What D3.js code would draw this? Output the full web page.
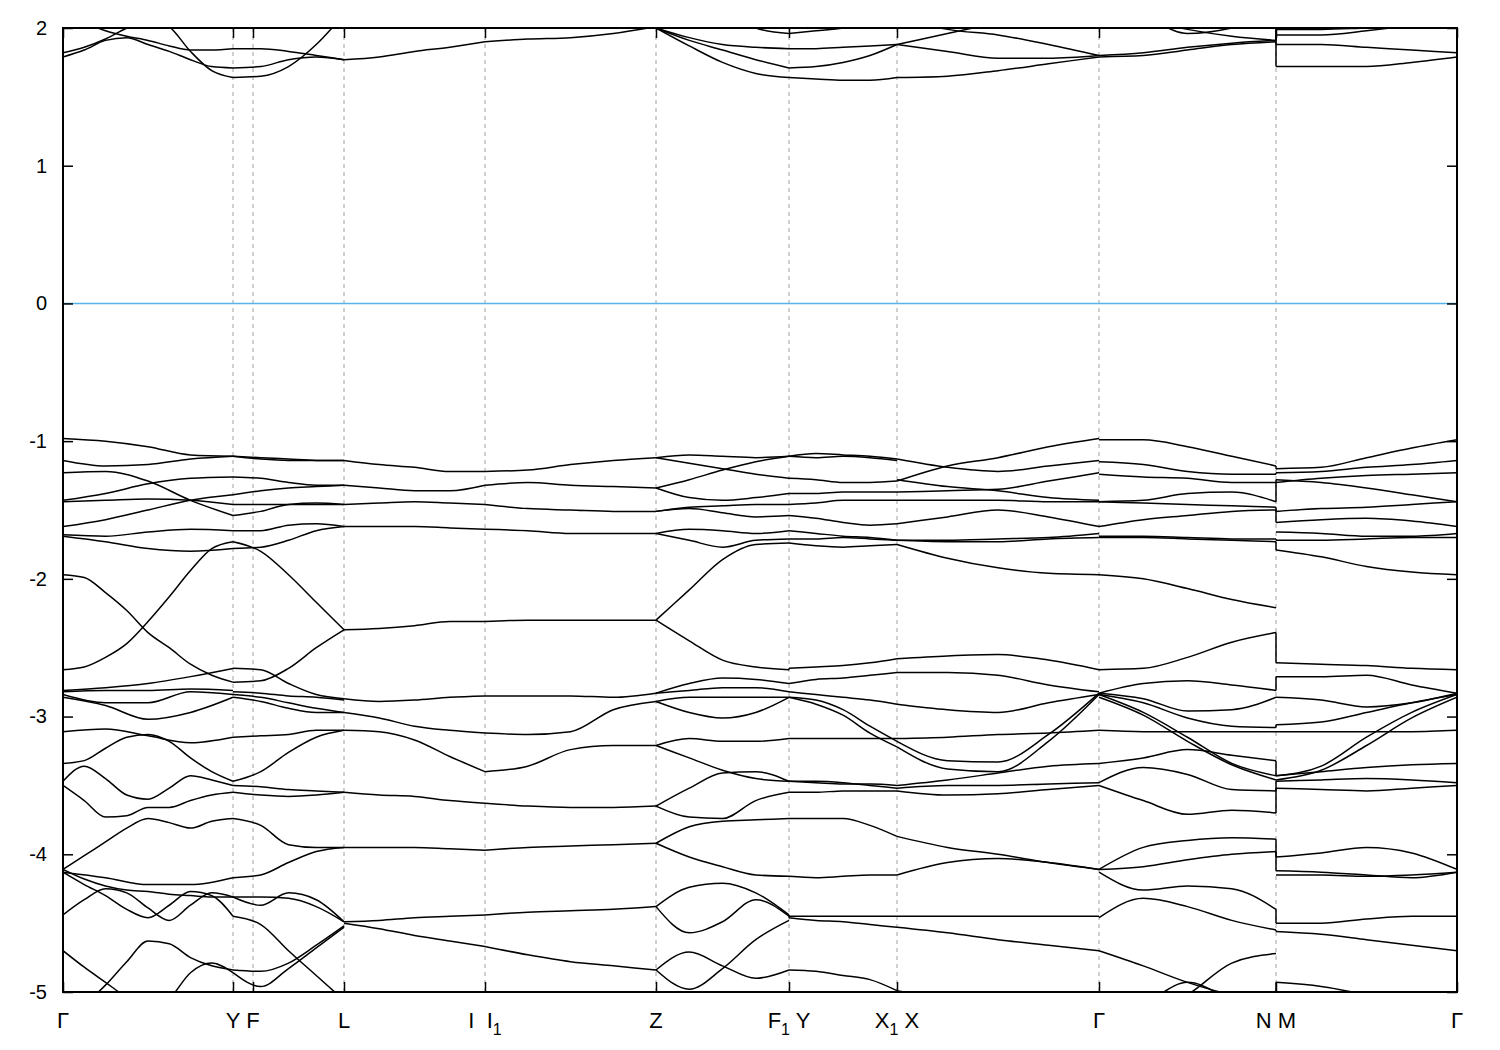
<!DOCTYPE html>
<html><head><meta charset="utf-8">
<script src="https://cdn.jsdelivr.net/npm/d3@7"></script>
<style>body{margin:0;background:#fff}svg{display:block}text{white-space:pre}</style>
</head><body>
<svg id="chart" width="1500" height="1050"></svg>
<script>
// High-symmetry points along the k-path (path length units)
const kTicks = [0, 0.170, 0.190, 0.281, 0.422, 0.593, 0.726, 0.834, 1.036, 1.213, 1.394];
const kLabels = ["Γ", "Y", "F", "L", "I  I_1", "Z", "F_1 Y", "X_1 X", "Γ", "N M", "Γ"];
const breakPoints = [6, 9]; // discontinuous path joints (F1|Y, N|M)
const energyTicks = [2, 1, 0, -1, -2, -3, -4, -5];
const energyRange = [-5, 2];
const fermiEnergy = 0;

// Band energies (eV), evenly sampled along each path segment
const bandsGammaY = [
 [1.82, 1.86, 1.92, 2.00, 2.07, 2.01, 1.83, 1.69, 1.64],
 [1.79, 1.84, 1.91, 1.93, 1.88, 1.83, 1.77, 1.72, 1.71],
 [2.12, 2.04, 1.98, 1.94, 1.91, 1.87, 1.84, 1.84, 1.85],
 [-0.98, -1.00, -1.04, -1.10, -1.11],
 [-1.14, -1.18, -1.17, -1.13, -1.11],
 [-1.23, -1.22, -1.29, -1.43, -1.54],
 [-1.43, -1.38, -1.31, -1.27, -1.26],
 [-1.44, -1.43, -1.42, -1.43, -1.46],
 [-1.62, -1.57, -1.50, -1.43, -1.39],
 [-1.68, -1.69, -1.66, -1.64, -1.65],
 [-1.69, -1.73, -1.78, -1.80, -1.78],
 [-2.66, -2.64, -2.57, -2.47, -2.31, -2.13, -1.94, -1.78, -1.73],
 [-1.97, -1.99, -2.10, -2.23, -2.39, -2.50, -2.62, -2.70, -2.75],
 [-2.81, -2.79, -2.76, -2.71, -2.65],
 [-2.82, -2.81, -2.81, -2.80, -2.81],
 [-2.84, -2.90, -2.90, -2.82, -2.84],
 [-2.86, -2.92, -3.02, -2.97, -2.86],
 [-3.11, -3.09, -3.14, -3.19, -3.15],
 [-3.34, -3.32, -3.23, -3.15, -3.13, -3.18, -3.30, -3.40, -3.47],
 [-3.47, -3.36, -3.45, -3.57, -3.60, -3.52, -3.43, -3.46, -3.50],
 [-3.50, -3.61, -3.73, -3.72, -3.66, -3.66, -3.61, -3.57, -3.55],
 [-4.11, -4.01, -3.91, -3.81, -3.74, -3.77, -3.81, -3.76, -3.74],
 [-4.13, -4.17, -4.22, -4.22, -4.17],
 [-4.11, -4.18, -4.23, -4.26, -4.27, -4.29, -4.30, -4.31, -4.31],
 [-4.13, -4.22, -4.30, -4.40, -4.46, -4.37, -4.27, -4.30, -4.45],
 [-4.44, -4.33, -4.25, -4.28, -4.39, -4.48, -4.37, -4.28, -4.31],
 [-4.70, -4.82, -4.93, -5.04, -5.13, -5.20, -5.24, -5.28, -5.31],
 [-5.20, -5.09, -4.95, -4.78, -4.63, -4.65, -4.75, -4.81, -4.84],
 [-5.35, -5.32, -5.28, -5.20, -5.13, -5.05, -4.86, -4.79, -4.86]
];
const bandsYL = [
 [1.64, 1.65, 1.72, 1.88, 2.10],
 [1.71, 1.72, 1.77, 1.79, 1.77],
 [1.85, 1.85, 1.83, 1.80, 1.77],
 [-1.11, -1.13, -1.14, -1.14, -1.14],
 [-1.11, -1.12, -1.13, -1.14, -1.14],
 [-1.54, -1.51, -1.46, -1.45, -1.46],
 [-1.26, -1.27, -1.30, -1.32, -1.32],
 [-1.46, -1.46, -1.46, -1.46, -1.46],
 [-1.39, -1.36, -1.34, -1.33, -1.32],
 [-1.65, -1.65, -1.61, -1.60, -1.62],
 [-1.78, -1.77, -1.72, -1.65, -1.62],
 [-1.73, -1.80, -1.97, -2.17, -2.37],
 [-2.75, -2.74, -2.65, -2.50, -2.37],
 [-2.65, -2.66, -2.76, -2.84, -2.87],
 [-2.82, -2.83, -2.85, -2.86, -2.88],
 [-2.84, -2.86, -2.90, -2.94, -2.97],
 [-2.86, -2.89, -2.94, -2.97, -2.97],
 [-3.15, -3.14, -3.13, -3.10, -3.10],
 [-3.47, -3.40, -3.26, -3.15, -3.10],
 [-3.50, -3.51, -3.53, -3.54, -3.55],
 [-3.55, -3.57, -3.58, -3.57, -3.55],
 [-3.74, -3.79, -3.93, -3.95, -3.95],
 [-4.17, -4.15, -4.06, -3.98, -3.95],
 [-4.31, -4.37, -4.28, -4.33, -4.49],
 [-4.31, -4.31, -4.32, -4.38, -4.49],
 [-4.45, -4.51, -4.70, -4.88, -5.06],
 [-4.84, -4.85, -4.79, -4.66, -4.52],
 [-4.86, -4.96, -4.83, -4.68, -4.53]
];
const bandsLI = [
 [1.77, 1.79, 1.83, 1.86, 1.90],
 [-1.14, -1.17, -1.19, -1.22, -1.22],
 [-1.32, -1.34, -1.36, -1.36, -1.32],
 [-1.46, -1.45, -1.44, -1.45, -1.46],
 [-1.62, -1.62, -1.62, -1.63, -1.64],
 [-2.37, -2.36, -2.34, -2.31, -2.31],
 [-2.87, -2.89, -2.88, -2.86, -2.85],
 [-2.97, -3.01, -3.07, -3.10, -3.12],
 [-3.10, -3.11, -3.17, -3.29, -3.40],
 [-3.55, -3.57, -3.58, -3.61, -3.63],
 [-3.95, -3.95, -3.95, -3.96, -3.97],
 [-4.49, -4.48, -4.46, -4.45, -4.44],
 [-4.50, -4.54, -4.59, -4.63, -4.67]
];
const bandsIZ = [
 [1.90, 1.92, 1.93, 1.96, 2.01],
 [-1.22, -1.21, -1.17, -1.14, -1.12],
 [-1.32, -1.30, -1.32, -1.33, -1.34],
 [-1.46, -1.49, -1.50, -1.51, -1.51],
 [-1.64, -1.65, -1.67, -1.67, -1.67],
 [-2.31, -2.30, -2.30, -2.30, -2.30],
 [-2.85, -2.85, -2.85, -2.86, -2.83],
 [-3.12, -3.13, -3.11, -2.95, -2.89],
 [-3.40, -3.36, -3.24, -3.21, -3.21],
 [-3.63, -3.65, -3.66, -3.66, -3.65],
 [-3.97, -3.95, -3.94, -3.93, -3.92],
 [-4.44, -4.42, -4.41, -4.40, -4.38],
 [-4.67, -4.73, -4.78, -4.81, -4.84]
];
const bandsZF = [
 [2.00, 1.93, 1.88, 1.86, 1.85],
 [2.00, 1.91, 1.84, 1.77, 1.71],
 [2.00, 1.87, 1.75, 1.67, 1.64],
 [2.20, 2.24, 2.13, 2.00, 1.96],
 [-1.12, -1.10, -1.11, -1.12, -1.11],
 [-1.12, -1.16, -1.20, -1.24, -1.27],
 [-1.34, -1.28, -1.21, -1.15, -1.11],
 [-1.34, -1.41, -1.43, -1.41, -1.38],
 [-1.51, -1.48, -1.47, -1.46, -1.46],
 [-1.51, -1.49, -1.52, -1.55, -1.54],
 [-1.67, -1.64, -1.65, -1.67, -1.65],
 [-1.67, -1.72, -1.77, -1.72, -1.71],
 [-2.30, -2.08, -1.86, -1.75, -1.74],
 [-2.30, -2.45, -2.59, -2.64, -2.66],
 [-2.83, -2.76, -2.72, -2.73, -2.76],
 [-2.83, -2.81, -2.79, -2.79, -2.82],
 [-2.89, -2.97, -3.01, -2.97, -2.86],
 [-2.89, -2.86, -2.86, -2.86, -2.86],
 [-3.21, -3.16, -3.18, -3.18, -3.16],
 [-3.21, -3.30, -3.39, -3.45, -3.47],
 [-3.65, -3.52, -3.41, -3.40, -3.47],
 [-3.65, -3.73, -3.74, -3.61, -3.55],
 [-3.92, -3.80, -3.76, -3.75, -3.74],
 [-3.92, -4.02, -4.09, -4.15, -4.16],
 [-4.38, -4.24, -4.21, -4.28, -4.44],
 [-4.38, -4.57, -4.49, -4.33, -4.45],
 [-4.84, -4.71, -4.81, -4.90, -4.84],
 [-4.84, -4.98, -4.83, -4.62, -4.48]
];
const bandsYX = [
 [1.85, 1.85, 1.86, 1.87, 1.88],
 [1.71, 1.72, 1.75, 1.80, 1.88],
 [1.64, 1.63, 1.62, 1.62, 1.64],
 [1.96, 1.98, 2.00, 2.04, 2.09],
 [-1.11, -1.09, -1.10, -1.11, -1.13],
 [-1.11, -1.12, -1.11, -1.12, -1.14],
 [-1.27, -1.28, -1.30, -1.30, -1.29],
 [-1.38, -1.38, -1.37, -1.37, -1.37],
 [-1.46, -1.45, -1.43, -1.43, -1.43],
 [-1.54, -1.56, -1.59, -1.61, -1.60],
 [-1.65, -1.67, -1.69, -1.70, -1.72],
 [-1.71, -1.71, -1.70, -1.71, -1.72],
 [-1.74, -1.76, -1.77, -1.76, -1.75],
 [-2.65, -2.64, -2.63, -2.61, -2.58],
 [-2.76, -2.73, -2.72, -2.70, -2.68],
 [-2.82, -2.84, -2.86, -2.88, -2.91],
 [-2.86, -2.88, -2.95, -3.07, -3.18],
 [-2.86, -2.91, -2.99, -3.12, -3.22],
 [-3.16, -3.16, -3.16, -3.16, -3.16],
 [-3.47, -3.48, -3.49, -3.49, -3.50],
 [-3.47, -3.47, -3.48, -3.50, -3.52],
 [-3.55, -3.55, -3.54, -3.54, -3.54],
 [-3.74, -3.74, -3.74, -3.79, -3.87],
 [-4.16, -4.17, -4.16, -4.15, -4.15],
 [-4.45, -4.45, -4.45, -4.45, -4.45],
 [-4.46, -4.48, -4.49, -4.51, -4.53],
 [-4.84, -4.85, -4.88, -4.91, -4.99]
];
const bandsXG = [
 [1.88, 1.96, 2.04, 2.12, 2.17],
 [1.88, 1.83, 1.78, 1.78, 1.80],
 [1.64, 1.65, 1.69, 1.74, 1.79],
 [2.09, 1.99, 1.95, 1.88, 1.80],
 [-1.29, -1.18, -1.12, -1.04, -0.98],
 [-1.13, -1.19, -1.22, -1.18, -1.14],
 [-1.37, -1.36, -1.35, -1.29, -1.23],
 [-1.28, -1.33, -1.36, -1.41, -1.43],
 [-1.43, -1.43, -1.43, -1.44, -1.44],
 [-1.60, -1.55, -1.50, -1.55, -1.62],
 [-1.72, -1.72, -1.71, -1.70, -1.67],
 [-1.72, -1.73, -1.73, -1.71, -1.70],
 [-1.75, -1.85, -1.92, -1.96, -1.97],
 [-2.58, -2.56, -2.55, -2.59, -2.66],
 [-2.68, -2.68, -2.70, -2.77, -2.82],
 [-2.91, -2.95, -2.97, -2.90, -2.84],
 [-3.18, -3.32, -3.33, -3.13, -2.83],
 [-3.22, -3.38, -3.40, -3.18, -2.84],
 [-3.16, -3.15, -3.13, -3.12, -3.10],
 [-3.50, -3.46, -3.41, -3.36, -3.34],
 [-3.52, -3.50, -3.50, -3.49, -3.48],
 [-3.54, -3.57, -3.56, -3.53, -3.50],
 [-3.87, -3.95, -4.00, -4.06, -4.11],
 [-4.15, -4.06, -4.03, -4.06, -4.11],
 [-4.45, -4.45, -4.45, -4.45, -4.45],
 [-4.53, -4.57, -4.62, -4.66, -4.70],
 [-4.99, -5.06, -5.13, -5.20, -5.28]
];
const bandsGN = [
 [1.80, 1.82, 1.86, 1.89, 1.91],
 [1.79, 1.80, 1.84, 1.88, 1.90],
 [2.17, 2.06, 1.99, 1.94, 1.91],
 [2.20, 2.09, 1.96, 2.00, 2.10],
 [-0.99, -0.99, -1.04, -1.11, -1.18],
 [-1.15, -1.17, -1.22, -1.24, -1.24],
 [-1.24, -1.26, -1.27, -1.30, -1.30],
 [-1.44, -1.43, -1.38, -1.37, -1.44],
 [-1.44, -1.45, -1.46, -1.47, -1.48],
 [-1.62, -1.57, -1.54, -1.51, -1.50],
 [-1.69, -1.69, -1.70, -1.71, -1.71],
 [-1.70, -1.70, -1.71, -1.72, -1.73],
 [-1.97, -2.00, -2.07, -2.15, -2.21],
 [-2.66, -2.65, -2.57, -2.46, -2.39],
 [-2.83, -2.76, -2.74, -2.77, -2.81],
 [-2.83, -2.87, -2.96, -2.95, -2.86],
 [-2.84, -2.90, -3.01, -3.07, -3.08],
 [-2.84, -2.97, -3.15, -3.34, -3.43],
 [-2.86, -2.99, -3.18, -3.35, -3.46],
 [-3.10, -3.11, -3.11, -3.11, -3.11],
 [-3.34, -3.30, -3.24, -3.28, -3.32],
 [-3.48, -3.37, -3.42, -3.53, -3.54],
 [-3.50, -3.61, -3.71, -3.68, -3.70],
 [-4.11, -3.95, -3.90, -3.88, -3.89],
 [-4.11, -4.09, -4.04, -4.00, -3.98],
 [-4.13, -4.26, -4.23, -4.25, -4.40],
 [-4.46, -4.32, -4.38, -4.48, -4.55],
 [-4.70, -4.81, -4.93, -5.02, -5.06],
 [-5.20, -5.09, -4.93, -5.06, -5.20],
 [-5.28, -5.17, -5.02, -4.79, -4.72]
];
const bandsMG = [
 [1.95, 1.95, 1.98, 2.02, 2.07],
 [1.88, 1.88, 1.86, 1.84, 1.82],
 [1.72, 1.72, 1.72, 1.75, 1.79],
 [1.99, 1.99, 2.00, 2.01, 2.02],
 [-1.20, -1.19, -1.12, -1.05, -0.99],
 [-1.23, -1.22, -1.19, -1.17, -1.14],
 [-1.30, -1.27, -1.25, -1.24, -1.23],
 [-1.28, -1.30, -1.34, -1.39, -1.44],
 [-1.51, -1.49, -1.48, -1.46, -1.44],
 [-1.59, -1.57, -1.56, -1.58, -1.62],
 [-1.66, -1.67, -1.69, -1.69, -1.67],
 [-1.72, -1.72, -1.71, -1.70, -1.70],
 [-1.79, -1.84, -1.91, -1.95, -1.97],
 [-2.61, -2.62, -2.63, -2.65, -2.66],
 [-2.71, -2.71, -2.70, -2.77, -2.83],
 [-2.86, -2.88, -2.93, -2.90, -2.83],
 [-3.06, -3.04, -2.97, -2.90, -2.84],
 [-3.43, -3.36, -3.15, -2.97, -2.84],
 [-3.46, -3.39, -3.21, -3.01, -2.86],
 [-3.11, -3.11, -3.11, -3.11, -3.10],
 [-3.43, -3.40, -3.37, -3.35, -3.34],
 [-3.47, -3.46, -3.45, -3.46, -3.48],
 [-3.52, -3.53, -3.54, -3.52, -3.50],
 [-4.02, -3.99, -3.95, -3.99, -4.11],
 [-4.12, -4.13, -4.15, -4.17, -4.13],
 [-4.15, -4.15, -4.16, -4.15, -4.13],
 [-4.50, -4.50, -4.47, -4.45, -4.45],
 [-4.56, -4.58, -4.62, -4.66, -4.70],
 [-4.93, -4.96, -5.02, -5.09, -5.17]
];

const segments = [
 {from: 0, to: 1, bands: bandsGammaY},
 {from: 1, to: 3, bands: bandsYL},
 {from: 3, to: 4, bands: bandsLI},
 {from: 4, to: 5, bands: bandsIZ},
 {from: 5, to: 6, bands: bandsZF},
 {from: 6, to: 7, bands: bandsYX},
 {from: 7, to: 8, bands: bandsXG},
 {from: 8, to: 9, bands: bandsGN},
 {from: 9, to: 10, bands: bandsMG}
];

const svg = d3.select("#chart");
const plot = {left: 63, right: 1457, top: 28, bottom: 992};
const x = d3.scaleLinear().domain([kTicks[0], kTicks[kTicks.length - 1]]).range([plot.left, plot.right]);
const y = d3.scaleLinear().domain(energyRange).range([plot.bottom, plot.top]);
const font = "'Liberation Sans', Arial, Helvetica, sans-serif";

svg.append("rect").attr("width", 1500).attr("height", 1050).attr("fill", "#fff");
svg.append("defs").append("clipPath").attr("id", "clip")
  .append("rect").attr("x", plot.left).attr("y", plot.top)
  .attr("width", plot.right - plot.left).attr("height", plot.bottom - plot.top);

// dashed vertical lines at interior high-symmetry points
svg.append("g").selectAll("line").data(kTicks.slice(1, -1)).join("line")
  .attr("x1", d => x(d)).attr("x2", d => x(d))
  .attr("y1", plot.top).attr("y2", plot.bottom)
  .attr("stroke", "#a0a0a0").attr("stroke-width", 1).attr("stroke-dasharray", "4,4");

// Fermi level
svg.append("line").attr("x1", plot.left).attr("x2", plot.right)
  .attr("y1", y(fermiEnergy)).attr("y2", y(fermiEnergy))
  .attr("stroke", "#56b4e9").attr("stroke-width", 1.5);

// bands
const gb = svg.append("g").attr("clip-path", "url(#clip)");
const line = d3.line().x(d => x(d[0])).y(d => y(d[1])).curve(d3.curveMonotoneX);
segments.forEach(seg => {
  const k0 = kTicks[seg.from], k1 = kTicks[seg.to];
  seg.bands.forEach(vals => {
    const n = vals.length;
    const pts = vals.map((e, i) => [k0 + (k1 - k0) * i / (n - 1), e]);
    gb.append("path").attr("d", line(pts)).attr("fill", "none")
      .attr("stroke", "#000").attr("stroke-width", 1.5);
  });
});
// vertical joins at discontinuous points
breakPoints.forEach(bp => {
  const left = segments.find(s => s.to === bp), right = segments.find(s => s.from === bp);
  const ends = left.bands.map(b => b[b.length - 1]);
  const starts = right.bands.map(b => b[0]);
  const pairs = [];
  ends.forEach((e, i) => starts.forEach((s, j) => pairs.push([Math.abs(e - s), i, j])));
  pairs.sort((a, b) => a[0] - b[0]);
  const ui = new Set(), uj = new Set();
  pairs.forEach(([d, i, j]) => {
    if (ui.has(i) || uj.has(j) || d > 0.5) return;
    ui.add(i); uj.add(j);
    gb.append("line").attr("x1", x(kTicks[bp])).attr("x2", x(kTicks[bp]))
      .attr("y1", y(ends[i])).attr("y2", y(starts[j]))
      .attr("stroke", "#000").attr("stroke-width", 1.5);
  });
});

// axes
const axL = svg.append("g").attr("transform", `translate(${plot.left},0)`)
  .call(d3.axisLeft(y).tickValues(energyTicks).tickSizeInner(-10).tickSizeOuter(0).tickPadding(16).tickFormat(d => String(d)));
const axR = svg.append("g").attr("transform", `translate(${plot.right},0)`)
  .call(d3.axisRight(y).tickValues(energyTicks).tickSizeInner(-10).tickSizeOuter(0).tickFormat(""));
const axB = svg.append("g").attr("transform", `translate(0,${plot.bottom})`)
  .call(d3.axisBottom(x).tickValues(kTicks).tickSizeInner(-10).tickSizeOuter(0).tickFormat(""));
const axT = svg.append("g").attr("transform", `translate(0,${plot.top})`)
  .call(d3.axisTop(x).tickValues(kTicks).tickSizeInner(-10).tickSizeOuter(0).tickFormat(""));
[axL, axR, axB, axT].forEach(a => {
  a.select(".domain").remove();
  a.selectAll(".tick line").attr("stroke", "#000").attr("stroke-width", 1.5);
});
axL.selectAll(".tick text").attr("font-family", font).attr("font-size", 20).attr("fill", "#000");

// frame
svg.append("rect").attr("x", plot.left).attr("y", plot.top)
  .attr("width", plot.right - plot.left).attr("height", plot.bottom - plot.top)
  .attr("fill", "none").attr("stroke", "#000").attr("stroke-width", 2);

// k-point labels with subscripts
const gl = svg.append("g").attr("font-family", font).attr("font-size", 22).attr("fill", "#000");
kLabels.forEach((lab, i) => {
  const t = gl.append("text").attr("x", x(kTicks[i])).attr("y", 1028).attr("text-anchor", "middle");
  const parts = lab.split(/(_\d)/).filter(s => s.length);
  let shifted = false;
  parts.forEach(p => {
    if (p[0] === "_") {
      t.append("tspan").attr("dy", 7).attr("font-size", 16).text(p.slice(1));
      shifted = true;
    } else {
      const ts = t.append("tspan").text(p);
      if (shifted) { ts.attr("dy", -7); shifted = false; }
    }
  });
});
</script>
</body></html>
